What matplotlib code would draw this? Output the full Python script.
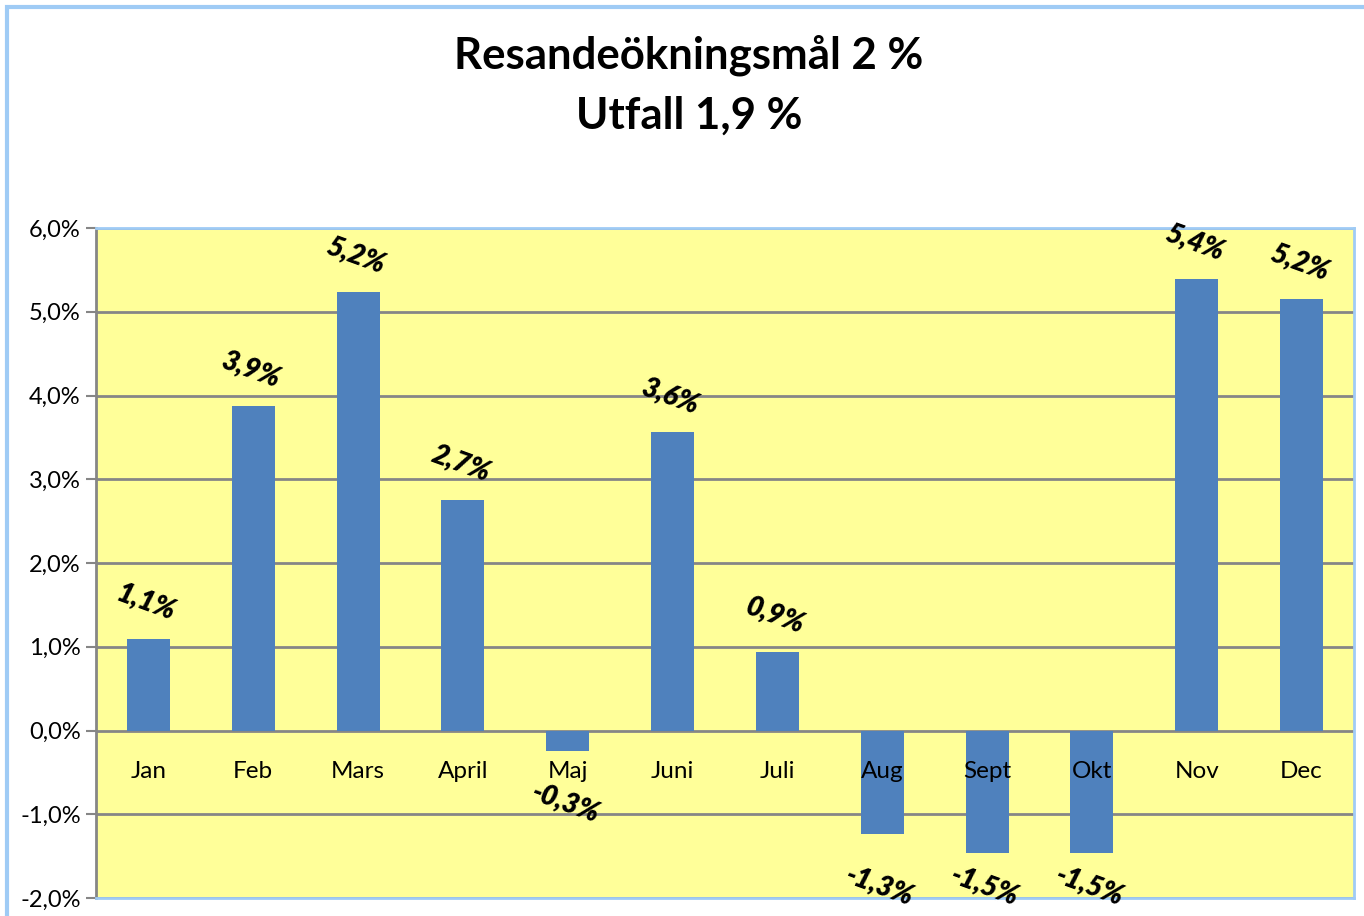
import matplotlib.pyplot as plt
import matplotlib.patches as mpatches
import numpy as np

months = ["Jan", "Feb", "Mars", "April", "Maj", "Juni", "Juli", "Aug", "Sept", "Okt", "Nov", "Dec"]
values = [1.09, 3.88, 5.24, 2.75, -0.24, 3.56, 0.94, -1.23, -1.46, -1.46, 5.39, 5.15]
value_labels = ["1,1%", "3,9%", "5,2%", "2,7%", "-0,3%", "3,6%", "0,9%", "-1,3%", "-1,5%", "-1,5%", "5,4%", "5,2%"]
y_ticks = [-2, -1, 0, 1, 2, 3, 4, 5, 6]
y_ticklabels = ["-2,0%", "-1,0%", "0,0%", "1,0%", "2,0%", "3,0%", "4,0%", "5,0%", "6,0%"]

plt.rcParams["font.family"] = ["Lato", "DejaVu Sans"]

fig = plt.figure(figsize=(13.64, 9.16), dpi=100)
# outer chart border (cut off at right/bottom like the screenshot)
fig.patches.append(mpatches.Rectangle((7 / 1364, -0.05), 1.1, (916 - 7) / 916 + 0.05,
                                      transform=fig.transFigure, fill=False,
                                      edgecolor="#9FCBF5", linewidth=3, zorder=0))

ax = fig.add_axes([96 / 1364, 18 / 916, 1258 / 1364, 670 / 916])
ax.set_facecolor("#FFFF99")

x = np.arange(len(months))
ax.bar(x, values, width=0.41, color="#4F81BD", zorder=3)

ax.set_xlim(-0.5, len(months) - 0.5)
ax.set_ylim(-2, 6)
ax.set_yticks(y_ticks)
ax.set_yticklabels(y_ticklabels, fontsize=17)
ax.set_xticks([])
ax.tick_params(axis="y", length=7, width=1.5, color="#868686", pad=4)
ax.grid(axis="y", color="#868686", linewidth=2, zorder=1)

for side in ["top", "right", "bottom"]:
    ax.spines[side].set_color("#9FCBF5")
    ax.spines[side].set_linewidth(2)
ax.spines["left"].set_color("#868686")
ax.spines["left"].set_linewidth(2)

for xi, name in zip(x, months):
    ax.text(xi, -0.49, name, ha="center", va="center", fontsize=17.5, zorder=5)

for xi, v, lab in zip(x, values, value_labels):
    if v >= 0:
        ypos = v + 0.44
    else:
        ypos = max(v - 0.62, -1.86)
    ax.text(xi - 0.02, ypos, lab, ha="center", va="center", fontsize=20,
            fontweight="heavy", fontstyle="italic", rotation=-20, zorder=5)

fig.text(0.505, 0.94, "Resandeökningsmål 2 %", ha="center", va="center",
         fontsize=31.5, fontweight="bold")
fig.text(0.505, 0.874, "Utfall 1,9 %", ha="center", va="center",
         fontsize=31.5, fontweight="bold")

fig.savefig("out.png", dpi=100)
